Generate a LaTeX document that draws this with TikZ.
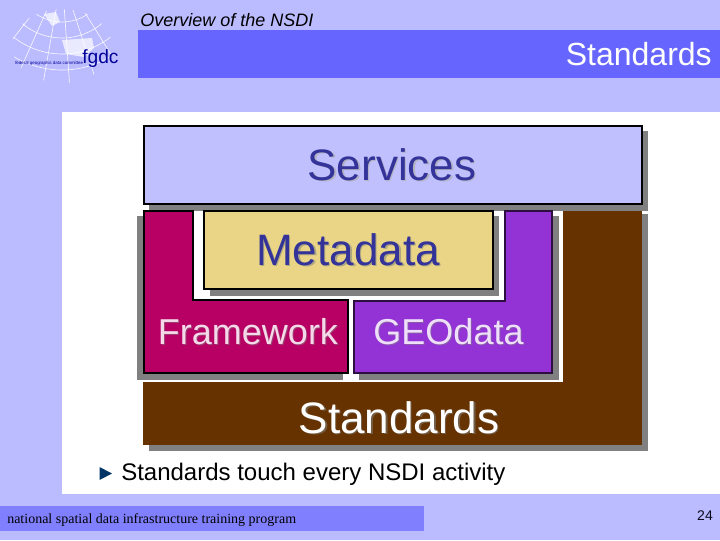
\documentclass[tikz,border=0pt]{standalone}
\usepackage{fontspec}
\setmainfont{Liberation Sans}
\newfontfamily\footerfont{Liberation Serif}
\usepackage{xcolor}
\usepackage{tikz}
\definecolor{slidebg}{RGB}{187,187,255}
\definecolor{barblue}{RGB}{102,102,255}
\definecolor{footblue}{RGB}{128,128,255}
\definecolor{servfill}{RGB}{192,192,255}
\definecolor{metafill}{RGB}{233,213,133}
\definecolor{frameclr}{RGB}{184,0,100}
\definecolor{geoclr}{RGB}{147,51,214}
\definecolor{stdclr}{RGB}{102,51,0}
\definecolor{shadowclr}{RGB}{128,128,128}
\definecolor{navytext}{RGB}{51,51,153}
\definecolor{logoblue}{RGB}{0,0,153}
\definecolor{bulletclr}{RGB}{0,51,102}
\begin{document}
\begin{tikzpicture}[
  x=0.75pt,y=-0.75pt,
  txt/.style={inner sep=0pt,anchor=base},
  big/.style={font=\fontsize{33}{36}\selectfont},
  mid/.style={font=\fontsize{27}{30}\selectfont},
  edge/.style={draw=black,line width=1.5pt},
  thinedge/.style={draw=black!70!geoclr,line width=0.9pt},
  shade/.style={fill=shadowclr},
  grid/.style={draw=white!85!slidebg,line width=0.5pt}
]
\useasboundingbox (0,0) rectangle (720,540);
\fill[slidebg] (0,0) rectangle (720,540);
\fill[barblue] (138,30) rectangle (720,78);
\fill[white] (62,112) rectangle (720,494);
\fill[footblue] (0,506) rectangle (424,531);

\begin{scope}
  \clip (62,46) ellipse[x radius=50,y radius=37];
  \foreach \r in {46,62,78,94}
    \draw[grid] ([shift={(62,-24)}]35:\r) arc[start angle=35,end angle=148,radius=\r];
  \foreach \a in {44,58,72,86,100,114,128,142}
    \draw[grid] ([shift={(62,-24)}]\a:30) -- ([shift={(62,-24)}]\a:112);
\end{scope}
\fill[white,opacity=0.7] (44,14) -- (56,12) -- (60,22) -- (52,26) -- cycle;
\fill[white,opacity=0.7] (62,40) -- (92,38) -- (94,48) -- (84,57) -- (66,54) -- cycle;
\node[txt,anchor=base west,font=\fontsize{3.3}{4}\selectfont,text=logoblue] (logotext) at (15,64) {federal geographic data committee};
\node[txt,anchor=base west,font=\fontsize{14.4}{16}\selectfont,text=logoblue] (logo) at (82,63) {fgdc};

\node[txt,anchor=base west,font=\fontsize{13.5}{16}\selectfont\itshape] (overview) at (140,26) {Overview of the NSDI};
\node[txt,anchor=base east,font=\fontsize{24}{28}\selectfont,text=white] (title) at (712,65) {Standards};

\fill[shade] (149,214) rectangle (648,451);
\fill[stdclr] (143,382) rectangle (642,445);
\fill[stdclr] (563,211) rectangle (642,382);
\fill[white] (137,211) rectangle (563,382);

\fill[shade] (149,131) rectangle (648,211);
\draw[edge,fill=servfill] (144,126) rectangle (642,204);

\fill[shade] (137,216) rectangle (343,379.5);
\fill[shade] (359,216) rectangle (559,379.5);
\fill[white] (193,211) rectangle (504,300);
\draw[edge,fill=frameclr] (144,211) -- (193,211) -- (193,300) -- (348,300) -- (348,373) -- (144,373) -- cycle;
\draw[thinedge,fill=geoclr] (505,211) -- (552,211) -- (552,373) -- (354,373) -- (354,301) -- (505,301) -- cycle;

\fill[shade] (210,216) rectangle (499,295.5);
\draw[edge,fill=metafill] (204,211) rectangle (493,289);

\node[txt,big,text=navytext!35!shadowclr!50!white] (servicess) at (393.5,181.5) {Services};
\node[txt,big,text=navytext] (services) at (392,180) {Services};
\node[txt,big,text=metafill!45!shadowclr] (metadatas) at (349.5,266.5) {Metadata};
\node[txt,big,text=navytext] (metadata) at (348,265) {Metadata};
\node[txt,mid,text=frameclr!50!shadowclr] (frameworks) at (249,345) {Framework};
\node[txt,mid,text=white!85!frameclr] (framework) at (248,344) {Framework};
\node[txt,mid,text=geoclr!50!shadowclr] (geodatas) at (449.5,345) {GEOdata};
\node[txt,mid,text=white!85!geoclr] (geodata) at (448.5,344) {GEOdata};
\node[txt,big,text=stdclr!45!shadowclr] (standardss) at (400.5,434.5) {Standards};
\node[txt,big,text=white] (standards) at (399,433) {Standards};

\fill[bulletclr] (99.5,467) -- (112,473.5) -- (99.5,480) -- cycle;
\node[txt,anchor=base west,font=\fontsize{18}{20}\selectfont] (bullet) at (121,480) {Standards touch every NSDI activity};
\node[txt,anchor=base west,font=\footerfont\fontsize{10.5}{12}\selectfont] (footer) at (7,523) {national spatial data infrastructure training program};
\node[txt,font=\fontsize{10.5}{12}\selectfont,text=black!80!navytext] (pageno) at (705,520) {24};
\end{tikzpicture}
\end{document}
